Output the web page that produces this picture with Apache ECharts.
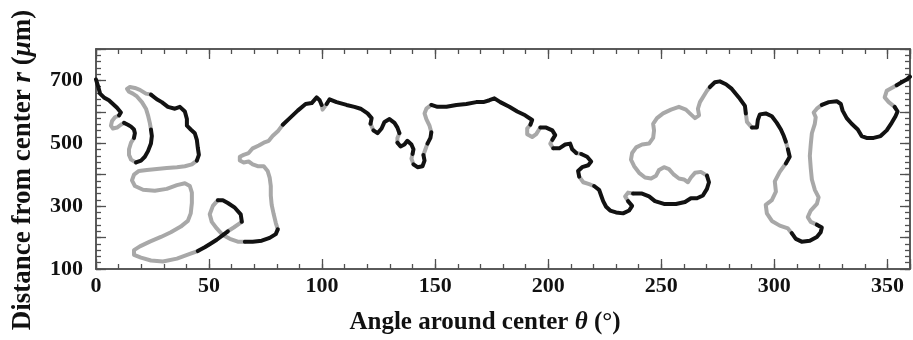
<!DOCTYPE html>
<html>
<head>
<meta charset="utf-8">
<script src="https://cdn.jsdelivr.net/npm/echarts@6/dist/echarts.min.js"></script>
<style>
  html, body { margin: 0; padding: 0; background: #ffffff; }
  #chart { width: 913px; height: 340px; }
</style>
</head>
<body>
<div id="chart"></div>
<script>
// Boundary contour traced around the centre: angle (deg) and distance (um), in path order.
const thetaDeg = [
  0.0, 0.9, 1.8, 3.5, 5.7, 7.5, 9.3, 11.0,
  10.2, 8.4, 7.1, 6.6, 7.5, 9.3, 11.0,
  12.4, 14.1, 15.5, 16.8, 17.2,
  16.8, 15.5, 14.6, 14.6, 15.5,
  17.7, 19.9, 21.6, 23.0, 24.3, 24.7,
  24.3, 23.8, 23.0, 22.1, 20.3, 18.1, 16.3, 14.6, 13.7, 15.0, 17.2, 19.4, 22.1,
  24.3, 26.9, 29.1, 31.8, 34.9, 37.1, 39.3, 40.2, 40.2, 41.9, 43.7, 44.6, 45.0, 45.5,
  44.6, 42.4, 39.3, 35.8, 31.3, 26.9, 22.5, 19.0, 16.8, 15.9, 17.2, 20.8, 26.0, 31.3, 35.8, 39.3,
  41.5, 42.4, 42.4, 41.9, 40.6, 37.5, 33.1, 28.7, 23.8, 19.4, 16.8, 16.8, 19.9, 24.3, 29.6, 35.8, 41.5,
  45.0, 48.1, 50.8, 53.4, 56.1,
  58.3, 60.9,
  64.5, 64.0, 61.4, 58.3, 56.1,
  53.9, 51.7, 50.3, 51.2, 53.4, 56.1, 59.2, 62.7,
  65.8, 69.3, 73.3, 76.8, 79.5,
  80.4, 79.5, 78.6, 77.7, 77.3, 77.3, 76.8, 75.9, 74.2, 71.5, 69.3, 67.5, 65.3, 63.6, 63.6,
  65.3, 67.5, 69.3, 72.0, 74.2, 76.4, 78.1, 80.4,
  82.6, 85.7, 89.2, 92.7, 95.4, 97.6, 98.9,
  99.8, 100.2,
  102.0, 103.3, 106.4, 110.8, 114.3, 117.0, 120.1, 121.9,
  121.4,
  122.7, 124.5, 126.3, 127.6, 129.8, 132.0, 133.3,
  134.2, 133.3,
  133.3, 134.7, 136.4, 137.7, 139.5, 140.4,
  140.0, 139.5,
  140.4, 142.2, 144.4, 145.3,
  144.8, 145.7,
  146.6, 147.9,
  148.3, 147.5, 146.1, 145.3, 146.1,
  148.3, 151.0, 155.0, 159.4, 163.8, 168.2, 171.3, 174.0, 176.2, 178.8, 182.8, 186.3, 189.8, 192.9,
  192.1, 190.7, 190.7, 192.9, 194.7,
  196.5, 199.1, 201.8, 203.1,
  201.8, 200.9,
  202.2, 204.9, 207.5, 209.7, 210.6,
  212.4,
  214.6, 217.2, 219.0, 217.7, 215.0, 213.2,
  213.7, 215.5, 218.1,
  220.3, 222.5, 223.4, 224.3, 225.6, 227.4, 230.0, 233.1, 235.8, 237.1,
  235.3, 234.0, 235.3,
  237.5, 241.5, 244.6, 247.2, 251.2, 256.5, 260.5, 263.1, 265.8, 268.4, 270.2, 271.1,
  270.2, 267.5, 264.9, 263.1, 261.8, 260.0, 257.8, 255.6, 253.4, 251.2, 249.0, 247.7,
  245.5, 242.8, 240.2, 238.0, 236.6, 237.1, 238.9, 241.5, 244.6, 246.4, 246.8, 246.4,
  248.1, 250.8, 254.3, 257.8, 260.9, 263.1, 264.9, 266.7, 266.2, 267.1, 268.9, 270.2,
  271.5, 273.7, 275.9, 278.6, 281.2, 284.3, 287.0,
  287.4, 287.9,
  290.1, 292.3, 292.7, 293.6, 296.2, 298.9, 301.1, 302.9, 304.2,
  305.1,
  306.0, 306.8,
  305.1, 302.4, 300.2, 300.7, 298.9, 296.2, 296.7, 298.9, 302.4, 306.0,
  307.7, 309.5, 312.1, 315.7, 318.8, 320.5, 321.0,
  318.8, 316.1, 314.8, 316.1, 318.8, 319.6, 317.9, 316.6, 316.1, 315.7, 316.1, 316.6,
  317.9, 318.3, 317.4, 318.8,
  321.0, 324.1, 327.6, 329.4, 330.2, 332.0, 334.2, 336.9, 338.6, 340.8, 343.9, 347.0,
  349.7, 351.9, 353.6, 354.5,
  353.2, 350.6, 348.8, 349.7, 351.9,
  354.1, 356.3, 358.5, 360.0
];

const radiusUm = [
  703, 682, 658, 646, 637, 625, 613, 598,
  589, 583, 571, 556, 547, 550, 559,
  565, 559, 553, 544, 532,
  517, 502, 481, 463, 448,
  439, 445, 457, 475, 499, 523,
  544, 565, 589, 610, 631, 649, 658, 664, 673, 679, 676, 670, 658,
  655, 640, 631, 616, 610, 616, 601, 577, 556, 544, 532, 511, 487, 463,
  445, 433, 427, 424, 421, 418, 415, 412, 400, 382, 364, 352, 349, 355, 367, 373,
  364, 343, 310, 277, 253, 235, 217, 202, 187, 172, 160, 145, 136, 127, 124, 133, 148,
  157, 169, 181, 193, 208,
  220, 232,
  250, 274, 295, 310, 319,
  319, 301, 274, 250, 229, 208, 196, 187,
  187, 187, 190, 199, 211,
  226, 247, 274, 304, 334, 364, 391, 412, 427, 427, 433, 442, 439, 445, 457,
  463, 469, 484, 493, 502, 508, 523, 538,
  559, 580, 604, 625, 628, 646, 637,
  622, 607,
  625, 640, 631, 622, 616, 610, 595, 580,
  562,
  541, 532, 547, 568, 577, 565, 550,
  532, 517,
  502, 490, 496, 508, 496, 481,
  466, 451,
  433, 424, 427, 445,
  463, 481,
  499, 517,
  535, 556, 577, 595, 610,
  622, 616, 616, 622, 625, 631, 631, 637, 643, 631, 616, 601, 589, 574,
  559, 547, 529, 520, 529,
  550, 550, 541, 526,
  511, 499,
  484, 484, 496, 499, 481,
  469,
  466, 457, 442, 430, 424, 412,
  394, 376, 370,
  364, 352, 334, 316, 298, 286, 280, 277, 286, 301,
  316, 331, 343,
  340, 340, 331, 316, 307, 307, 313, 325, 325, 334, 355, 376,
  397, 409, 406, 391, 376, 385, 388, 400, 418, 424, 415, 397,
  388, 391, 406, 427, 448, 469, 487, 496, 499, 517, 541, 562,
  580, 595, 607, 616, 607, 592, 580, 589, 610, 631, 652, 667,
  679, 694, 697, 688, 673, 646, 619,
  595, 568,
  550, 550, 574, 592, 595, 586, 565, 544, 523,
  505,
  481, 457,
  436, 409, 379, 346, 319, 304, 277, 253, 238, 229,
  214, 196, 187, 190, 202, 217, 232,
  241, 250, 265, 286, 307, 328, 352, 385, 421, 460, 496, 532,
  562, 583, 598, 610,
  622, 631, 634, 625, 604, 580, 562, 544, 523, 517, 517, 523,
  541, 565, 586, 601,
  616, 631, 646, 667, 676,
  685, 694, 703, 712
];

// Shading of the contour along its length: 'k' dark stretches, 'g' light stretches.
const runShades = [
  'k','g','k','g','k','g','k','g','k','g','k','g','k','g','k','g','k','g','k','g',
  'k','g','k','g','k','g','k','g','k','g','k','g','k','g','k','g','k','g','k','g',
  'k','g','k','g','k','g','k','g','k'
];
const runLengths = [
  8, 7, 5, 5, 6, 13, 14, 33, 5, 2, 5, 8, 5, 23, 7, 2, 8, 1, 7, 2,
  6, 2, 4, 2, 2, 5, 14, 5, 4, 2, 5, 1, 6, 3, 10, 3, 12, 36, 7, 2,
  9, 1, 2, 10, 7, 16, 16, 5, 4
];

const yLabelValues = [100, 300, 500, 700];

const INK = { k: '#121212', g: '#a8a8a8' };
const AXIS_GREY = '#505050';
const SERIF = '"Liberation Serif", "DejaVu Serif", serif';

// One line series per shaded stretch; each stretch also takes the first
// point of the next one so the contour stays continuous.
const series = [];
let start = 0;
runLengths.forEach((len, i) => {
  const end = Math.min(start + len, thetaDeg.length - 1);
  const pts = [];
  for (let j = start; j <= end; j++) pts.push([thetaDeg[j], radiusUm[j]]);
  series.push({
    type: 'line',
    xAxisIndex: 0,
    yAxisIndex: 0,
    data: pts,
    showSymbol: false,
    symbol: 'none',
    silent: true,
    animation: false,
    z: runShades[i] === 'k' ? 3 : 2,
    lineStyle: { color: INK[runShades[i]], width: 4, cap: 'round', join: 'round' }
  });
  start += len;
});

const frameLine = { show: true, onZero: false, lineStyle: { color: AXIS_GREY, width: 1.5 } };
const tick = (len) => ({ show: true, inside: true, length: len, lineStyle: { color: AXIS_GREY, width: 1.3 } });
const labelStyle = { fontFamily: SERIF, fontWeight: 'bold', fontSize: 22, color: '#111' };
const richFor = (size) => ({
  b: { fontFamily: SERIF, fontWeight: 'bold', fontSize: size, color: '#111' },
  i: { fontFamily: SERIF, fontWeight: 'bold', fontStyle: 'italic', fontSize: size, color: '#111' }
});

function xAxisDef(position, interval, len, withLabels) {
  return {
    type: 'value', min: 0, max: 360, interval: interval, position: position,
    axisLine: frameLine, axisTick: tick(len), splitLine: { show: false },
    axisLabel: withLabels ? Object.assign({
      margin: 6,
      formatter: v => (v % 50 === 0 ? String(v) : '')
    }, labelStyle) : { show: false }
  };
}
function yAxisDef(position, interval, len, withLabels) {
  return {
    type: 'value', min: 100, max: 800, interval: interval, position: position,
    axisLine: frameLine, axisTick: tick(len), splitLine: { show: false },
    axisLabel: withLabels ? Object.assign({
      margin: 13,
      formatter: v => (yLabelValues.indexOf(v) >= 0 ? String(v) : '')
    }, labelStyle) : { show: false }
  };
}

const xMain = xAxisDef('bottom', 50, 10, true);
xMain.name = '{b|Angle around center }{i|θ}{b| (°)}';
xMain.nameLocation = 'middle';
xMain.nameGap = 41;
xMain.nameTextStyle = { padding: [0, 36, 0, 0], rich: richFor(25) };

const yMain = yAxisDef('left', 100, 10, true);
yMain.name = '{b|Distance from center }{i|r}{b| (}{i|μ}{b|m)}';
yMain.nameLocation = 'middle';
yMain.nameGap = 59;
yMain.nameTextStyle = { padding: [0, 22, 0, 0], rich: richFor(27) };

const chart = echarts.init(document.getElementById('chart'), null, { renderer: 'canvas' });
chart.setOption({
  animation: false,
  backgroundColor: '#ffffff',
  grid: { left: 96, right: 1, top: 49, bottom: 57, containLabel: false },
  xAxis: [
    xMain,
    xAxisDef('bottom', 10, 5, false),
    xAxisDef('top', 50, 10, false),
    xAxisDef('top', 10, 5, false)
  ],
  yAxis: [
    yMain,
    yAxisDef('left', 20, 5, false),
    yAxisDef('right', 100, 10, false),
    yAxisDef('right', 20, 5, false)
  ],
  series: series
});
</script>
</body>
</html>
